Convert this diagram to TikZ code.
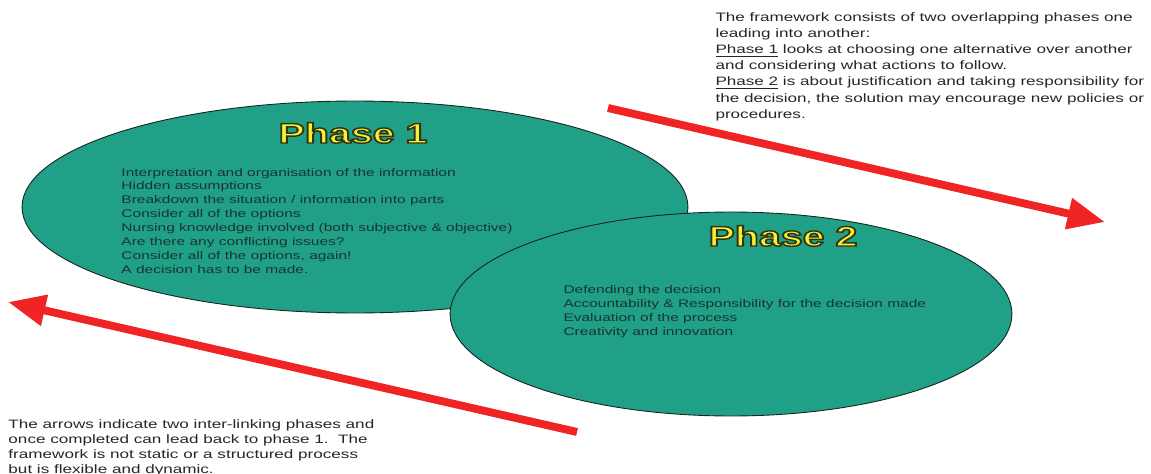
\documentclass[tikz,border=0pt]{standalone}
\usepackage{fontspec}
\setmainfont{Liberation Sans}
\usetikzlibrary{shapes,arrows,positioning,calc,arrows.meta}
\definecolor{phasefill}{HTML}{21A088}
\definecolor{phaseedge}{HTML}{16241C}
\definecolor{titleyellow}{HTML}{F4F03A}
\definecolor{flowred}{HTML}{F02424}
\definecolor{itemtext}{HTML}{173530}
% yellow letters with a dark outline
\newcommand{\outlined}[1]{\special{pdf:literal direct 2 Tr 0.8 w 0.2 0.2 0.05 RG}#1\special{pdf:literal direct 0 Tr}}

\begin{document}
\begin{tikzpicture}[x=0.02cm, y=-0.02cm,
    phase/.style={draw=phaseedge, ellipse, fill=phasefill, line width=0.5pt, inner sep=0pt},
    item/.style={anchor=base west, inner sep=0pt, xscale=1.4, text=itemtext, font=\fontsize{6.3}{7.5}\selectfont},
    note/.style={anchor=base west, inner sep=0pt, xscale=1.4, text=black!85, font=\fontsize{6.95}{8}\selectfont},
    title/.style={anchor=base, inner sep=0pt, xscale=1.4, text=titleyellow, font=\bfseries\fontsize{16}{16}\selectfont},
    flow/.style={draw=flowred, line width=4.5pt, -{Triangle[length=0.75cm, width=0.6cm]}}
]
    \useasboundingbox (0,0) rectangle (1151,473);

    % Ellipses
    \node [phase, minimum width=13.32cm, minimum height=4.24cm] (p1) at (355,207) {};
    \node [phase, minimum width=11.24cm, minimum height=4.08cm] (p2) at (731,314) {};

    % Titles
    \node [title] (t1) at (353,143) {\outlined{Phase 1}};
    \node [title] (t2) at (783,246) {\outlined{Phase 2}};

    % Phase 1 items
    \foreach \i/\label in {0/Interpretation and organisation of the information, 1/Hidden assumptions, 2/{Breakdown the situation / information into parts}, 3/Consider all of the options, 4/Nursing knowledge involved (both subjective \& objective), 5/Are there any conflicting issues?, 6/{Consider all of the options, again!}, 7/A decision has to be made.} {
        \node [item] (a\i) at (121,176+\i*13.86) {\label};
    }

    % Phase 2 items
    \foreach \i/\label in {0/Defending the decision, 1/Accountability \& Responsibility for the decision made, 2/Evaluation of the process, 3/Creativity and innovation} {
        \node [item] (b\i) at (563,293+\i*14) {\label};
    }

    % Notes
    \foreach \i/\label in {0/The framework consists of two overlapping phases one, 1/leading into another:, 2/\underline{Phase 1} looks at choosing one alternative over another, 3/and considering what actions to follow., 4/\underline{Phase 2} is about justification and taking responsibility for, 5/{the decision, the solution may encourage new policies or}, 6/procedures.} {
        \node [note] (n\i) at (715,22+\i*16) {\label};
    }
    \foreach \i/\label in {0/The arrows indicate two inter-linking phases and, 1/once completed can lead back to phase 1.\ \ The, 2/framework is not static or a structured process, 3/but is flexible and dynamic.} {
        \node [note] (m\i) at (8,428+\i*15) {\label};
    }

    % Arrows
    \coordinate (f1s) at (608,108);
    \coordinate (f1e) at (1105,222);
    \coordinate (f2s) at (577,432);
    \coordinate (f2e) at (8,302);
    \draw [flow] (f1s) -- (f1e);
    \draw [flow] (f2s) -- (f2e);
\end{tikzpicture}
\end{document}
